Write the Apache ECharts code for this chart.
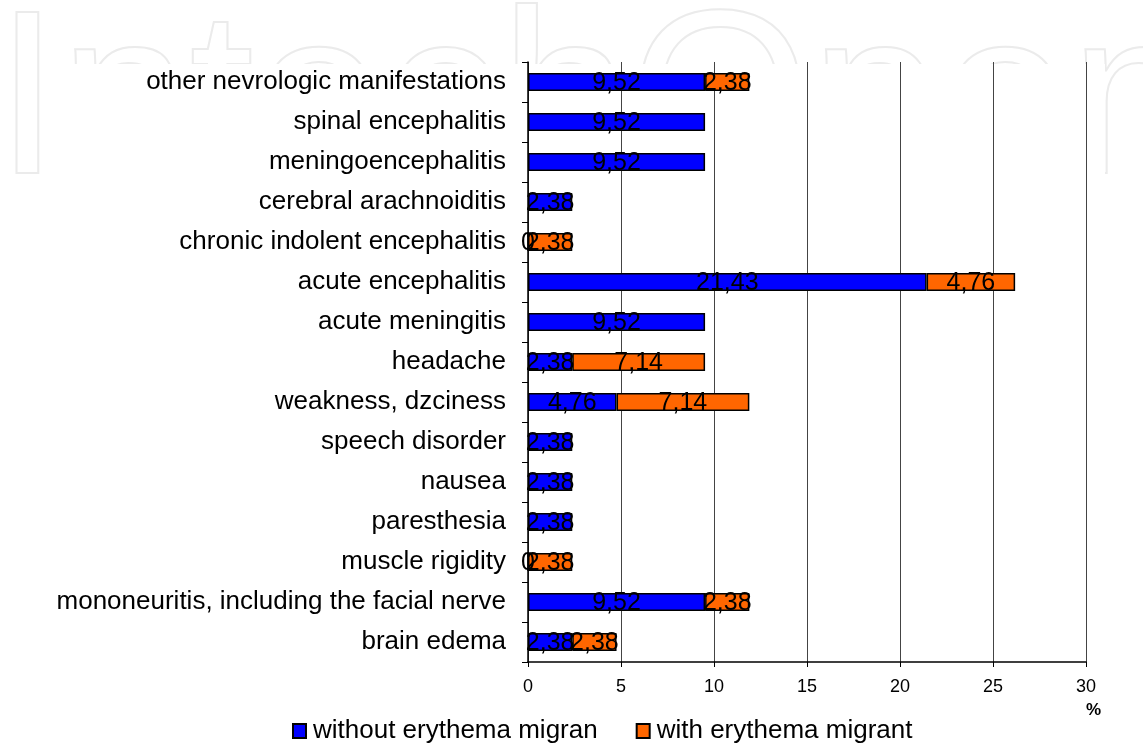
<!DOCTYPE html>
<html><head><meta charset="utf-8">
<script src="https://cdn.jsdelivr.net/npm/echarts@6/dist/echarts.min.js"></script>
<style>html,body{margin:0;padding:0;background:#fff}#c{width:1143px;height:743px}</style>
</head><body><div id="c"></div>
<script>
const categories = ["brain edema","mononeuritis, including the facial nerve","muscle rigidity","paresthesia","nausea","speech disorder","weakness, dzciness","headache","acute meningitis","acute encephalitis","chronic indolent encephalitis","cerebral arachnoiditis","meningoencephalitis","spinal encephalitis","other nevrologic manifestations"];
const withoutEM = [2.38, 9.52, 0, 2.38, 2.38, 2.38, 4.76, 2.38, 9.52, 21.43, 0, 2.38, 9.52, 9.52, 9.52];
const withEM = [2.38, 2.38, 2.38, null, null, null, 7.14, 7.14, null, 4.76, 2.38, null, null, null, 2.38];
const xTicks = [0, 5, 10, 15, 20, 25, 30];
const seriesNames = ["without erythema migran", "with erythema migrant"];

const fmt = p => (p.value === 0 ? '0' : p.value.toFixed(2).replace('.', ','));
const font = "'Liberation Sans', Arial, sans-serif";
const chart = echarts.init(document.getElementById('c'));
chart.setOption({
  animation: false,
  grid: {left: 528, right: 57, top: 62, bottom: 81},
  graphic: [
    {type: 'text', left: -6, top: -9, z: -10, silent: true,
     style: {text: 'IntechOpen', font: '233px ' + font, fill: 'none', stroke: '#ebebeb', lineWidth: 2}},
    {type: 'rect', z: -9, silent: true, shape: {x: 50, y: 64, width: 1055, height: 700}, style: {fill: '#fff'}},
    {type: 'text', left: 1086, top: 702, style: {text: '%', font: 'bold 17px ' + font, fill: '#000'}}
  ],
  legend: {
    left: 287, top: 713, itemGap: 38, itemWidth: 13, itemHeight: 14, icon: 'rect',
    textStyle: {fontFamily: font, fontSize: 26, color: '#000', padding: [0, 0, 0, 2]},
    data: seriesNames
  },
  xAxis: {
    type: 'value', min: 0, max: 30, interval: 5,
    axisLine: {show: true, lineStyle: {color: '#000', width: 1.5}},
    axisTick: {show: true, length: 5, lineStyle: {color: '#000'}},
    axisLabel: {fontFamily: font, fontSize: 18, color: '#000', margin: 16,
      formatter: v => xTicks.includes(v) ? String(v) : ''},
    splitLine: {show: true, lineStyle: {color: '#444', width: 1}}
  },
  yAxis: {
    type: 'category', data: categories,
    axisLine: {show: true, lineStyle: {color: '#000', width: 1.5}},
    axisTick: {show: true, length: 6, lineStyle: {color: '#000'}},
    axisLabel: {fontFamily: font, fontSize: 26, color: '#000', margin: 22}
  },
  series: [
    {name: seriesNames[0], type: 'bar', stack: 's', data: withoutEM, barWidth: 18,
     itemStyle: {color: '#0000ff', borderColor: '#000', borderWidth: 1.5},
     label: {show: true, position: 'inside', formatter: fmt, fontFamily: font, fontSize: 25, color: '#000', offset: [0, 1]}},
    {name: seriesNames[1], type: 'bar', stack: 's', data: withEM, barWidth: 18,
     itemStyle: {color: '#ff6600', borderColor: '#000', borderWidth: 1.5},
     label: {show: true, position: 'inside', formatter: fmt, fontFamily: font, fontSize: 25, color: '#000', offset: [0, 1]}}
  ]
});
</script></body></html>
